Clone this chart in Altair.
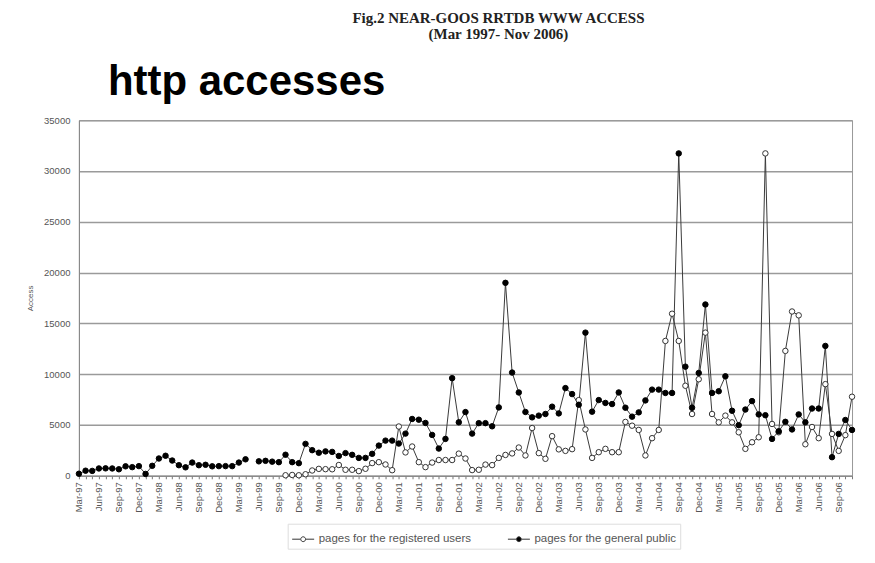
import altair as alt
import pandas as pd

# ---- categories: monthly from Mar-97 to Nov-06 ----
MONTH_NAMES = ["Jan", "Feb", "Mar", "Apr", "May", "Jun",
               "Jul", "Aug", "Sep", "Oct", "Nov", "Dec"]
months = []
yy, mm = 1997, 2
while (yy, mm) <= (2006, 10):
    months.append(f"{MONTH_NAMES[mm]}-{str(yy)[2:]}")
    mm += 1
    if mm == 12:
        mm, yy = 0, yy + 1

# ---- series values ----
general_public = [
    200, 500, 480, 720, 730, 720, 640, 930, 850, 950,
    180, 980, 1700, 1970, 1500, 1040, 830, 1300, 1040, 1080,
    930, 950, 950, 950, 1300, 1620, None, 1420, 1470, 1390,
    1340, 2070, 1340, 1240, 3140, 2520, 2270, 2400, 2350, 1950,
    2230, 2060, 1760, 1760, 2160, 2970, 3460, 3460, 3170, 4150,
    5590, 5520, 5200, 4020, 2680, 3630, 9610, 5260, 6270, 4150,
    5180, 5180, 4870, 6730, 18990, 10160, 8200, 6280, 5750, 5920,
    6080, 6800, 6140, 8630, 8040, 6990, 14090, 6310, 7450, 7170,
    7060, 8200, 6700, 5820, 6240, 7420, 8480, 8480, 8150, 8150,
    31730, 10740, 6700, 10120, 16860, 8150, 8320, 9790, 6400, 4980,
    6520, 7350, 6040, 5960, 3630, 4380, 5310, 4560, 6040, 5260,
    6620, 6620, 12780, 1830, 4120, 5490, 4510,
]
registered_users = [None] * 31 + [
    50, 80, 50, 150, 520, 680, 650, 640, 1060,
    590, 590, 460, 690, 1250, 1340, 1110, 550, 4850, 2300,
    2880, 1340, 850, 1300, 1550, 1550, 1550, 2180, 1700, 560,
    590, 1100, 1050, 1760, 2050, 2200, 2780, 2000, 4700, 2230,
    1670, 3900, 2600, 2450, 2620, 7450, 4560, 1760, 2320, 2650,
    2320, 2320, 5300, 4930, 4510, 2000, 3700, 4510, 13270, 15950,
    13270, 8860, 6080, 9500, 14090, 6080, 5260, 5920, 5260, 4280,
    2650, 3300, 3790, 31730, 5100, 4280, 12290, 16170, 15790, 3100,
    4800, 3700, 9020, 4120, 2450, 4000, 7780,
]

SERIES = ["pages for the registered users", "pages for the general public"]
y_ticks = [0, 5000, 10000, 15000, 20000, 25000, 30000, 35000]

TITLE1 = "Fig.2 NEAR-GOOS RRTDB WWW ACCESS"
TITLE2 = "(Mar 1997- Nov 2006)"
HEADING = "http accesses"

rows = []
for m, v in zip(months, registered_users):
    rows.append({"month": m, "series": SERIES[0], "value": v})
for m, v in zip(months, general_public):
    rows.append({"month": m, "series": SERIES[1], "value": v})
df = pd.DataFrame(rows)

FONT = "Liberation Sans"
GRAY = "#555555"

x_enc = alt.X(
    "month:O",
    sort=months,
    scale=alt.Scale(type="point", padding=0),
    axis=alt.Axis(
        title=None,
        labelAngle=270,
        labelFontSize=9.5,
        labelFont=FONT,
        labelColor=GRAY,
        labelPadding=3,
        labelOverlap=False,
        labelExpr="indexof(['Mar','Jun','Sep','Dec'], slice(datum.label,0,3)) >= 0 ? datum.label : ''",
        tickSize=3,
        tickColor="#777777",
        domainColor="#888888",
        grid=False,
    ),
)
y_enc = alt.Y(
    "value:Q",
    scale=alt.Scale(domain=[0, 35000], nice=False),
    axis=alt.Axis(
        title="Access",
        titleFontSize=8,
        titleFont=FONT,
        titleFontWeight="normal",
        titleColor=GRAY,
        titleAngle=270,
        titleX=-44,
        titleY=178,
        values=y_ticks,
        format="d",
        labelFontSize=9.5,
        labelFont=FONT,
        labelColor=GRAY,
        labelPadding=9,
        ticks=False,
        gridColor="#9a9a9a",
        gridWidth=1.5,
        domainColor="#888888",
    ),
)

base = alt.Chart(df)

lines = base.mark_line(
    color="#3a3a3a", strokeWidth=1, invalid="break-paths-show-domains"
).encode(x=x_enc, y=y_enc, detail="series:N")

open_pts = base.transform_filter(
    alt.datum.series == SERIES[0]
).mark_point(
    shape="circle", filled=True, fill="white", stroke="#333333",
    strokeWidth=1, size=30, opacity=1
).encode(x=x_enc, y=y_enc)

filled_pts = base.transform_filter(
    alt.datum.series == SERIES[1]
).mark_point(
    shape="circle", filled=True, fill="black", stroke="black",
    strokeWidth=1, size=30, opacity=1
).encode(x=x_enc, y=y_enc)

SYM = ("M-1,0L-0.26,0M0.26,0L1,0"
       "M0.22,0A0.22,0.22 0 1,1 -0.22,0A0.22,0.22 0 1,1 0.22,0Z")

legend_layer = base.mark_point(opacity=0, filled=True, strokeWidth=1).encode(
    x=x_enc,
    y=y_enc,
    shape=alt.Shape("series:N", scale=alt.Scale(domain=SERIES, range=[SYM, SYM])),
    fill=alt.Fill("series:N", scale=alt.Scale(domain=SERIES, range=["white", "black"])),
    stroke=alt.Stroke("series:N", scale=alt.Scale(domain=SERIES, range=["#333333", "#333333"])),
)

titles = alt.Chart(pd.DataFrame({"t": [TITLE1, TITLE2], "k": [0, 1]}))
title1 = titles.transform_filter(alt.datum.k == 0).mark_text(
    font="Liberation Serif", fontWeight="bold", fontSize=15, color="#222222",
    align="center", baseline="middle"
).encode(text="t:N", x=alt.value(420), y=alt.value(-102))
title2 = titles.transform_filter(alt.datum.k == 1).mark_text(
    font="Liberation Serif", fontWeight="bold", fontSize=15, color="#222222",
    align="center", baseline="middle"
).encode(text="t:N", x=alt.value(420), y=alt.value(-86))

heading = alt.Chart(pd.DataFrame({"t": [HEADING]})).mark_text(
    font=FONT, fontWeight="bold", fontSize=42, color="black",
    align="left", baseline="alphabetic"
).encode(text="t:N", x=alt.value(29), y=alt.value(-25))

chart = alt.layer(
    lines, open_pts, filled_pts, legend_layer, title1, title2, heading
).properties(
    width=774,
    height=356,
    background="white",
    padding={"left": 71, "top": 120 - 8, "right": 15, "bottom": 79},
    autosize=alt.AutoSizeParams(type="none"),
).configure_view(
    stroke="#999999", strokeWidth=1
).configure_legend(
    orient="none",
    legendX=209,
    legendY=404,
    direction="horizontal",
    title=None,
    labelFont=FONT,
    labelFontSize=11.5,
    labelColor=GRAY,
    symbolSize=484,
    symbolStrokeWidth=1,
    symbolOpacity=1,
    strokeColor="#dddddd",
    padding=4,
    columnPadding=34,
    labelLimit=400,
)

chart.save("out.html", embed_options={"renderer": "svg", "actions": False})
